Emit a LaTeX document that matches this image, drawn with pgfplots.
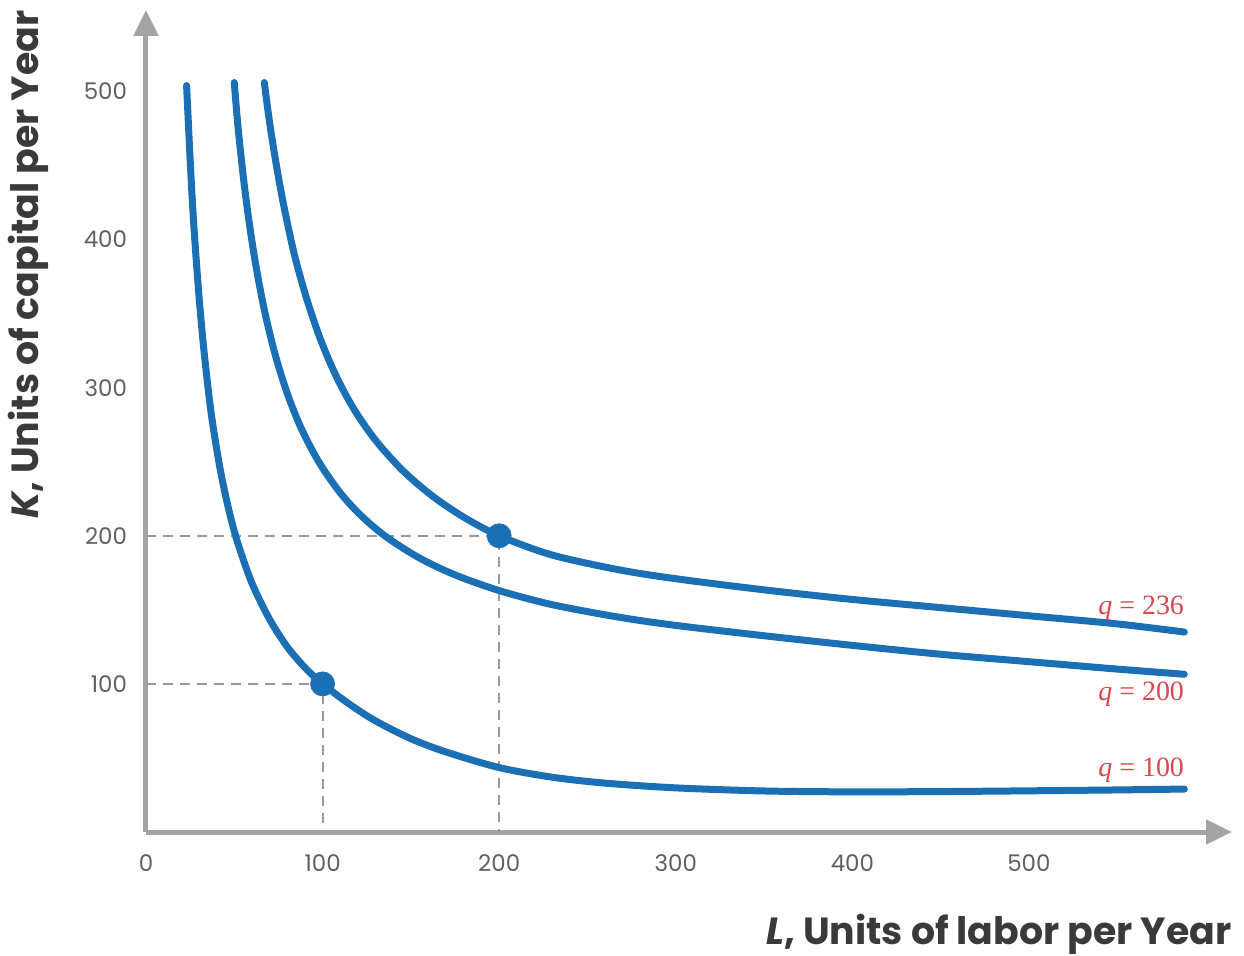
\documentclass[border=0pt]{standalone}
\usepackage{pgfplots}
\pgfplotsset{compat=1.18}
\usepackage{fontspec}
\setmainfont{Poppins}
\newfontfamily\qfont{Liberation Serif}
\usetikzlibrary{arrows.meta}

\definecolor{curveblue}{HTML}{1A6FB5}
\definecolor{qred}{HTML}{D9474F}
\definecolor{axisgray}{HTML}{A3A3A3}
\definecolor{dashgray}{HTML}{999999}
\definecolor{ticktext}{HTML}{606060}
\definecolor{labeltext}{HTML}{3A3A3A}

\begin{document}
\begin{tikzpicture}
\begin{axis}[
  scale only axis,
  width=543bp, height=411bp,
  xmin=0, xmax=615, ymin=0, ymax=555,
  axis lines=left,
  axis line style={axisgray, line width=2.5bp, -{Triangle[length=13bp,width=12bp]}},
  xtick={0,100,...,500},
  ytick={100,200,...,500},
  major tick length=0pt,
  /pgf/number format/assume math mode=true,
  tick label style={font=\fontsize{11.5}{13}\selectfont, text=ticktext},
  xticklabel style={anchor=north, yshift=-8bp},
  yticklabel style={anchor=east, xshift=-6bp},
  xlabel={\textit{L}, Units of labor per Year},
  ylabel={\textit{K}, Units of capital per Year},
  every axis x label/.style={at={(rel axis cs:1,0)}, yshift=-56bp, anchor=base east, inner sep=0pt,
    font=\bfseries\fontsize{19}{22}\selectfont, text=labeltext},
  every axis y label/.style={at={(rel axis cs:0,1)}, xshift=-53.5bp, rotate=90, anchor=base east, inner sep=0pt,
    font=\bfseries\fontsize{19}{22}\selectfont, text=labeltext},
  clip=false,
]

% guide lines to the two marked bundles
\addplot[dashgray, line width=1bp, dash pattern=on 5bp off 3.5bp] coordinates {(0,100) (100,100) (100,0)};
\addplot[dashgray, line width=1bp, dash pattern=on 5bp off 3.5bp] coordinates {(0,200) (200,200) (200,0)};

% q = 100
\addplot[curveblue, line width=3.5bp, line cap=round, smooth] coordinates {
  (23,504) (25,454) (27,411) (30,362) (33,323) (37,282) (42,245) (47,217)
  (52,195) (60,168) (70,143.6) (80,125) (90,111) (100,100) (115,86.5) (130,75)
  (150,63) (170,54) (200,43.5) (230,37) (260,33) (300,29.8) (350,27.7)
  (400,27.1) (450,27.3) (500,27.8) (550,28.4) (588,29)
};
% q = 200
\addplot[curveblue, line width=3.5bp, line cap=round, smooth] coordinates {
  (50,506) (52,477.4) (55,443.6) (58,415.2) (62,384) (67,352.6) (73,323)
  (80,296.1) (88,272.3) (98,249.6) (110,229) (122,213.4) (136,199.3) (155,184.9)
  (175,173.6) (200,163) (230,153.5) (268,145) (300,139.5) (350,132.5) (400,126)
  (450,120) (500,115) (550,110) (588,106.5)
};
% q = 236
\addplot[curveblue, line width=3.5bp, line cap=round, smooth] coordinates {
  (67,506) (70,479) (74,449) (78,423) (84,390) (91,360) (99,332) (108,307)
  (118,285) (130,264.5) (145,244.5) (162,227) (180,212.5) (200,200) (230,187)
  (268,177) (300,171) (350,163.5) (400,157) (450,151.5) (500,146) (550,140.5)
  (588,135)
};

\addplot[only marks, mark=*, mark size=6bp, curveblue] coordinates {(100,100) (200,200)};

\node[anchor=base east, inner sep=0pt, text=qred, font=\qfont\fontsize{14}{16}\selectfont] at (axis cs:588,146.6) {\textit{q} = 236};
\node[anchor=base east, inner sep=0pt, text=qred, font=\qfont\fontsize{14}{16}\selectfont] at (axis cs:588,88.5) {\textit{q} = 200};
\node[anchor=base east, inner sep=0pt, text=qred, font=\qfont\fontsize{14}{16}\selectfont] at (axis cs:588,37.8) {\textit{q} = 100};

\coordinate (O) at (rel axis cs:0,0);
\coordinate (TR) at (rel axis cs:1,1);
\end{axis}
\pgfresetboundingbox
\path[use as bounding box] ([shift={(-73bp,-62bp)}]O) rectangle ([shift={(6bp,5bp)}]TR);
\end{tikzpicture}
\end{document}
